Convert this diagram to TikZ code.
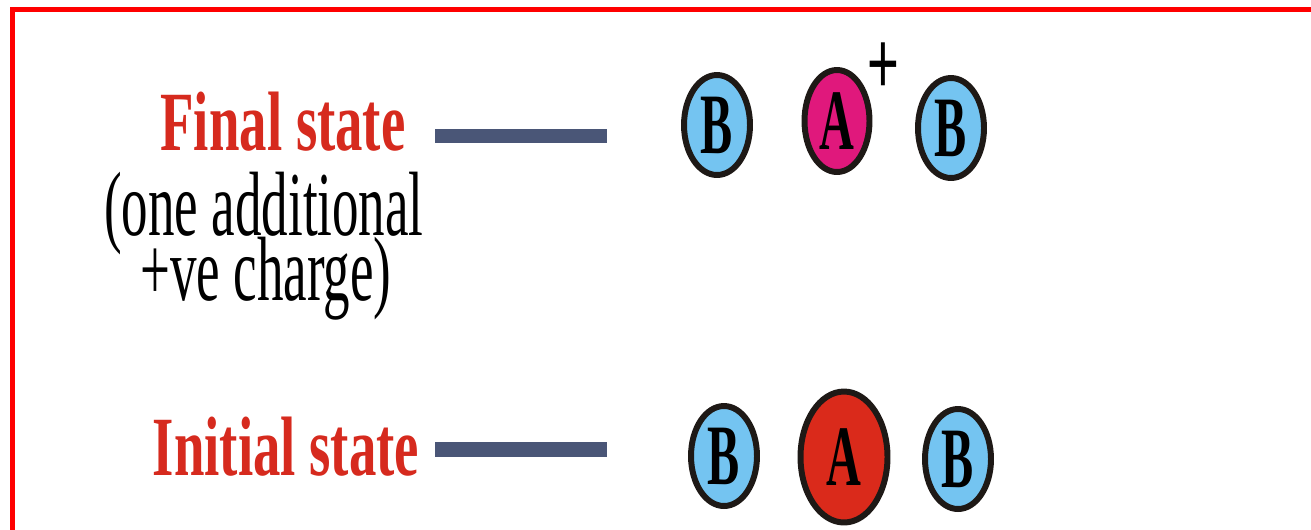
\documentclass[tikz,border=0pt]{standalone}
\usepackage{fontspec}
\setmainfont{Liberation Serif}
\newfontfamily\plusfont{Liberation Sans}
\usetikzlibrary{shapes.geometric}
\definecolor{framered}{RGB}{255,0,0}
\definecolor{titlered}{RGB}{214,42,30}
\definecolor{barblue}{RGB}{74,86,119}
\definecolor{rim}{RGB}{30,25,22}
\definecolor{ionblue}{RGB}{116,196,241}
\definecolor{ionmag}{RGB}{224,24,124}
\definecolor{ionred}{RGB}{218,42,27}
\newcommand{\narrow}[2]{\scalebox{#1}[1]{#2}}
\begin{document}
\begin{tikzpicture}[x=0.02cm, y=-0.02cm,
  title/.style={text=titlered, font=\bfseries\fontsize{48}{52}\selectfont, inner sep=0pt, anchor=base},
  note/.style={font=\fontsize{52}{56}\selectfont, inner sep=0pt, anchor=base},
  level/.style={draw=barblue, line width=8pt},
  ion/.style={ellipse, draw=rim, line width=3.4pt, inner sep=0pt, minimum width=1.32cm, minimum height=2cm, font=\bfseries\fontsize{49}{52}\selectfont}]
\useasboundingbox (0,0) rectangle (1311,529);
\draw[framered, line width=2.85pt] (12.5,545) -- (12.5,9.5) -- (1325,9.5);

\node[title] (fin) at (283,150) {\narrow{0.65}{Final state}};
\node[note] (note1) at (264,235) {\narrow{0.58}{(one additional}};
\node[note] (note2) at (266,300) {\narrow{0.58}{+ve charge)}};
\node[title] (ini) at (286,475) {\narrow{0.65}{Initial state}};

\coordinate (finL) at (435,136);
\coordinate (finR) at (607,136);
\coordinate (iniL) at (435,449.5);
\coordinate (iniR) at (607,449.5);
\draw[level] (finL) -- (finR);
\draw[level] (iniL) -- (iniR);

\node[ion, fill=ionblue] (bfin1) at (717,125) {\narrow{0.56}{B}};
\node[ion, fill=ionmag, minimum width=1.3cm, minimum height=2.04cm] (afin) at (837,121) {\narrow{0.56}{A}};
\node[ion, fill=ionblue] (bfin2) at (951,128) {\narrow{0.56}{B}};
\node[inner sep=0pt, font=\plusfont\fontsize{50}{52}\selectfont] (plus) at (883,68) {\narrow{0.62}{+}};

\node[ion, fill=ionblue] (bini1) at (724,456) {\narrow{0.56}{B}};
\node[ion, fill=ionred, minimum width=1.74cm, minimum height=2.62cm] (aini) at (844,457) {\narrow{0.56}{A}};
\node[ion, fill=ionblue] (bini2) at (958,459) {\narrow{0.56}{B}};
\end{tikzpicture}
\end{document}
